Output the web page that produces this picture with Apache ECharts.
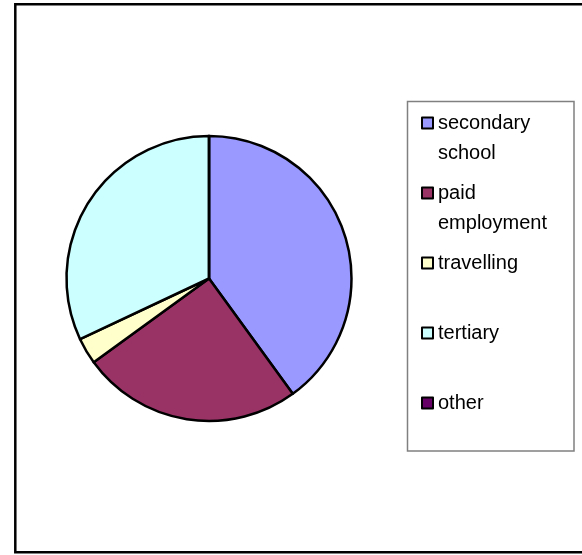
<!DOCTYPE html>
<html>
<head>
<meta charset="utf-8" />
<title>destinations</title>
<script src="https://cdn.jsdelivr.net/npm/echarts@6.0.0/dist/echarts.min.js"></script>
<style>
	html, body { margin: 0; padding: 0; background: #fff; }
	#chartDiv { width: 582px; height: 555px; }
</style>
</head>
<body>
<div id="chartDiv"></div>
<script type="text/javascript">
	//分类
	var categories = ['secondary school', 'paid employment', 'travelling', 'tertiary', 'other'];
	//百分比
	var shares = [40, 25, 3, 32, 0];
	//颜色
	var colors = ['#9999ff', '#993366', '#ffffcc', '#ccffff', '#660066'];

	var pieData = new Array();
	for (var i = 0; i < categories.length; i++) {
		pieData.push({ name: categories[i], value: shares[i] });
	}
	//图例：每项高度一样，两行的名字第一行对齐图标
	var legendData = new Array();
	for (var j = 0; j < categories.length; j++) {
		var twoLines = categories[j].indexOf(' ') > 0;
		legendData.push({
			name: categories[j],
			textStyle: { padding: twoLines ? 0 : [30, 0, 30, 0] }
		});
	}

	var myChart = echarts.init(document.getElementById('chartDiv'));
	var option = {
		animation: false,
		color: colors,
		tooltip: { show: false },
		graphic: [{
			type: 'rect',
			silent: true,
			shape: { x: 15.3, y: 4.2, width: 590, height: 548 },
			style: { fill: 'none', stroke: '#000', lineWidth: 2.5 }
		}, {
			type: 'rect',
			silent: true,
			shape: { x: 407.5, y: 101.5, width: 166.5, height: 349.5 },
			style: { fill: 'none', stroke: '#808080', lineWidth: 1.5 }
		}],
		legend: {
			orient: 'vertical',
			left: 421,
			top: 78,
			padding: 0,
			itemGap: -20,
			itemWidth: 11,
			itemHeight: 11,
			icon: 'rect',
			selectedMode: false,
			itemStyle: { borderColor: '#000', borderWidth: 2 },
			formatter: function (name) {
				//空的第一行把文字往下推
				return name.indexOf(' ') > 0 ? '\n' + name.replace(' ', '\n') : name;
			},
			textStyle: {
				color: '#000',
				fontFamily: 'Liberation Sans',
				fontSize: 20,
				lineHeight: 30,
				backgroundColor: 'transparent'
			},
			data: legendData
		},
		series: [{
			name: 'destination',
			type: 'pie',
			center: [209, 278.5],
			radius: 142.5,
			startAngle: 90,
			clockwise: true,
			avoidLabelOverlap: false,
			label: { show: false },
			labelLine: { show: false },
			emphasis: { disabled: true },
			itemStyle: { borderColor: '#000', borderWidth: 2.5 },
			data: pieData
		}]
	};
	myChart.setOption(option);
</script>
</body>
</html>
